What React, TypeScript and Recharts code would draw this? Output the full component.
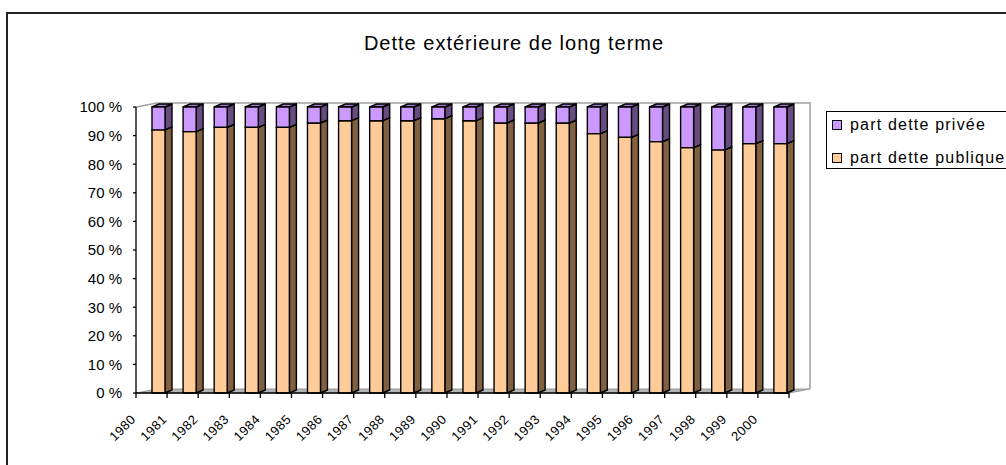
import React from 'react';
import { BarChart, Bar, XAxis, YAxis, Legend, ReferenceArea } from 'recharts';

const years = [
  '1980', '1981', '1982', '1983', '1984', '1985', '1986', '1987', '1988', '1989', '1990',
  '1991', '1992', '1993', '1994', '1995', '1996', '1997', '1998', '1999', '2000',
];
const publicShare = [92.0, 91.4, 92.9, 92.9, 92.9, 94.4, 95.2, 95.2, 95.2, 95.9, 95.2, 94.4, 94.4, 94.4, 90.7, 89.4, 87.9, 85.8, 85.0, 87.2, 87.2];
const privateShare = [8.0, 8.6, 7.1, 7.1, 7.1, 5.6, 4.8, 4.8, 4.8, 4.1, 4.8, 5.6, 5.6, 5.6, 9.3, 10.6, 12.1, 14.2, 15.0, 12.8, 12.8];
const yTicks = [0, 10, 20, 30, 40, 50, 60, 70, 80, 90, 100];
const seriesNames = { priv: 'part dette privée', pub: 'part dette publique' };
const title = 'Dette extérieure de long terme';

const data = years.map((year, i) => ({ year, pub: publicShare[i], priv: privateShare[i] }));

const FONT = '"Liberation Sans", Arial, sans-serif';
const DX = 7;
const DY = -3;
const SHIFT = 7;
const WALL_DX = 21;
const WALL_DY = -4;

const makeShape = (front: string, side: string, top: string) => (props: any) => {
  const { x, y, width, height } = props;
  if (width == null || height == null) return null;
  const X = x + SHIFT;
  const w = width;
  const h = height;
  return (
    <g stroke="#000" strokeWidth={1.4} strokeLinejoin="round">
      <polygon points={`${X + w},${y} ${X + w + DX},${y + DY} ${X + w + DX},${y + h + DY} ${X + w},${y + h}`} fill={side} />
      <polygon points={`${X},${y} ${X + DX},${y + DY} ${X + w + DX},${y + DY} ${X + w},${y}`} fill={top} />
      <rect x={X} y={y} width={w} height={h} fill={front} />
    </g>
  );
};

const WallShape = (props: any) => {
  const { x, y, width, height } = props;
  if (x == null) return null;
  const b = y + height;
  const r = x + width;
  return (
    <g>
      <polygon
        points={`${x},${b} ${x + WALL_DX},${b + WALL_DY} ${r + WALL_DX},${b + WALL_DY} ${r},${b}`}
        fill="#b4b4b4"
        stroke="#999"
        strokeWidth={1}
      />
      <polyline
        points={`${x},${y} ${x + WALL_DX},${y + WALL_DY} ${r + WALL_DX},${y + WALL_DY} ${r + WALL_DX},${b + WALL_DY}`}
        fill="none"
        stroke="#a0a0a0"
        strokeWidth={1.5}
      />
    </g>
  );
};

const XTick = (props: any) => {
  const { x, y, payload, index } = props;
  const bw = props.width && props.visibleTicksCount ? props.width / props.visibleTicksCount : 653 / years.length;
  const axisY = y - 7;
  return (
    <g>
      <line x1={x - bw / 2} y1={axisY} x2={x - bw / 2} y2={axisY + 5} stroke="#000" strokeWidth={1.3} />
      {index === years.length - 1 && (
        <line x1={x + bw / 2} y1={axisY} x2={x + bw / 2} y2={axisY + 5} stroke="#000" strokeWidth={1.3} />
      )}
      <text
        transform={`translate(${x - 15},${y + 20}) rotate(-45)`}
        textAnchor="end"
        fontSize={13}
        letterSpacing={0.5}
        fontFamily={FONT}
        fill="#000"
      >
        {payload.value}
      </text>
    </g>
  );
};

const legendOrder = ['priv', 'pub'];
const legendColors: Record<string, string> = { priv: '#CC99FF', pub: '#FFCC99' };

const LegendBox = (props: any) => {
  const payload = (props.payload || []).slice().sort(
    (a: any, b: any) => legendOrder.indexOf(a.dataKey) - legendOrder.indexOf(b.dataKey)
  );
  return (
    <div
      style={{
        position: 'relative',
        width: 190,
        height: 58,
        border: '1.5px solid #000',
        boxSizing: 'border-box',
        background: '#fff',
        fontFamily: FONT,
        fontSize: 16,
        letterSpacing: 1.2,
        color: '#000',
      }}
    >
      {payload.map((p: any, i: number) => (
        <div key={p.dataKey} style={{ position: 'absolute', left: 5, top: 3 + i * 33, height: 20, display: 'flex', alignItems: 'center', whiteSpace: 'nowrap' }}>
          <span style={{ display: 'inline-block', width: 8, height: 8, border: '1px solid #000', background: legendColors[p.dataKey], marginRight: 8 }} />
          <span style={{ lineHeight: '20px' }}>{p.value}</span>
        </div>
      ))}
    </div>
  );
};

export default function App() {
  return (
    <div style={{ position: 'absolute', left: 0, top: 0, width: 1006, height: 465, overflow: 'hidden', background: '#fff' }}>
      <div
        style={{
          position: 'absolute',
          left: 6,
          top: 12,
          width: 1100,
          height: 500,
          border: '2px solid #222',
          boxSizing: 'border-box',
        }}
      />
      <div
        style={{
          position: 'absolute',
          left: 0,
          top: 33,
          width: 1028,
          textAlign: 'center',
          fontFamily: FONT,
          fontSize: 20,
          lineHeight: '20px',
          letterSpacing: 1,
          color: '#000',
        }}
      >
        {title}
      </div>
      <div style={{ position: 'absolute', left: 0, top: 0 }}>
        <BarChart
          width={1006}
          height={465}
          data={data}
          margin={{ top: 107, right: 217, bottom: 12, left: 76 }}
          barSize={13}
        >
          <ReferenceArea y1={0} y2={100} ifOverflow="visible" shape={<WallShape />} zIndex={-100} />
          <XAxis
            dataKey="year"
            interval={0}
            height={60}
            tickSize={5}
            tickMargin={2}
            tickLine={false}
            axisLine={{ stroke: '#000', strokeWidth: 1.3 }}
            tick={<XTick />}
          />
          <YAxis
            domain={[0, 100]}
            ticks={yTicks}
            width={60}
            tickSize={3}
            tickMargin={11}
            tickFormatter={(v: number) => `${v} %`}
            axisLine={{ stroke: '#000', strokeWidth: 1.3 }}
            tickLine={{ stroke: '#000', strokeWidth: 1.3 }}
            tick={{ fontSize: 15, fill: '#000', fontFamily: FONT }}
          />
          <Legend
            layout="vertical"
            align="center"
            verticalAlign="middle"
            content={<LegendBox />}
            wrapperStyle={{ position: 'absolute', left: 826, top: 111, right: 'auto', bottom: 'auto', width: 190, height: 58 }}
          />
          <Bar
            dataKey="pub"
            name={seriesNames.pub}
            stackId="a"
            fill="#FFCC99"
            isAnimationActive={false}
            shape={makeShape('#FFCC99', '#806040', '#CCA37A')}
          />
          <Bar
            dataKey="priv"
            name={seriesNames.priv}
            stackId="a"
            fill="#CC99FF"
            isAnimationActive={false}
            shape={makeShape('#CC99FF', '#664C80', '#A37ACC')}
          />
        </BarChart>
      </div>
    </div>
  );
}
